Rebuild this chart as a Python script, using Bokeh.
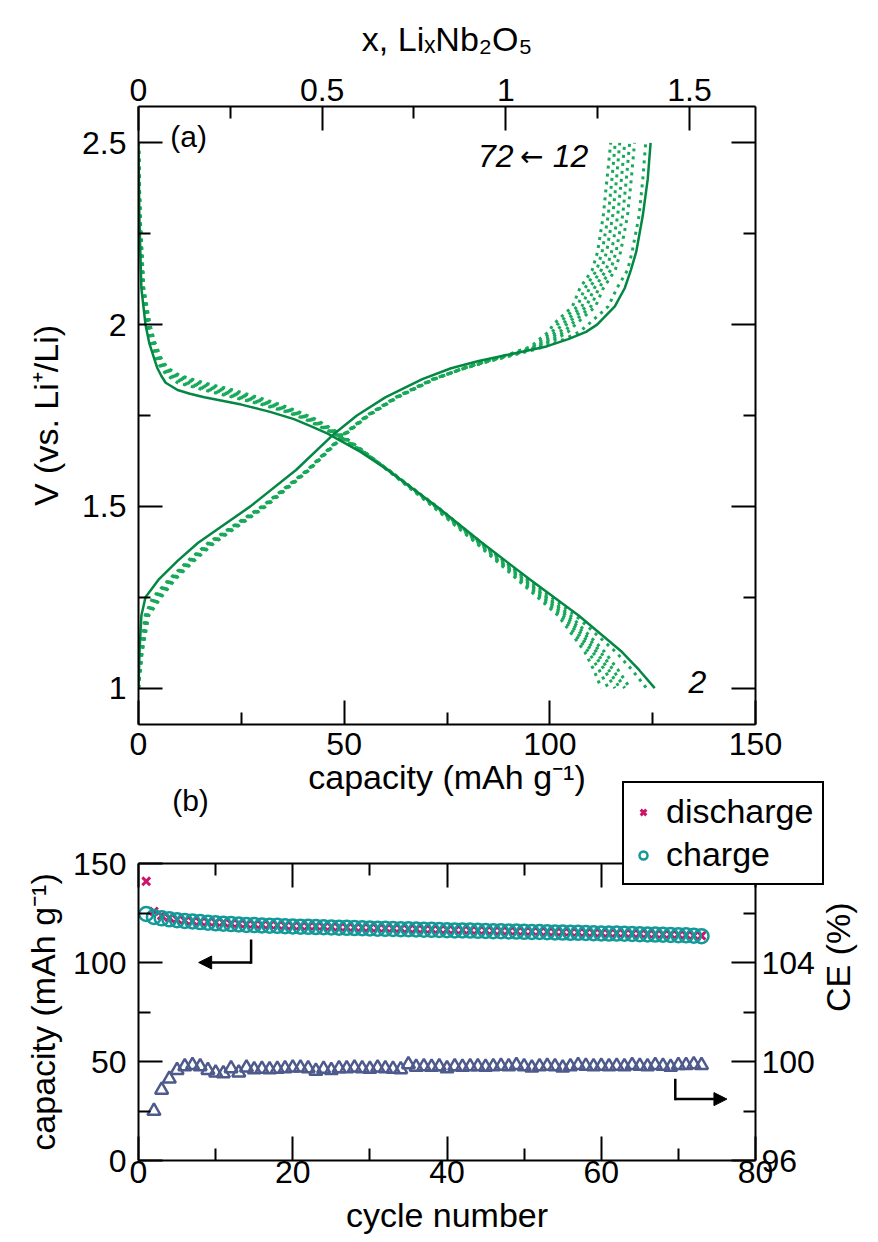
import math

from bokeh.plotting import figure
from bokeh.layouts import column
from bokeh.models import (Range1d, LinearAxis, FixedTicker, Label, Arrow,
                          NormalHead, Legend, LegendItem)
from bokeh.embed import file_html
from bokeh.resources import INLINE

FONT = "Liberation Sans"
SOLID_GREEN = "#048743"
DOT_GREEN = "#19a95a"
TEAL = "#13999a"
MAGENTA = "#cc1468"
SLATE = "#4f5a8c"

# ---- panel (a): voltage profiles -------------------------------------------
# capacity (mAh/g) that corresponds to x = 1 in LixNb2O5
CAP_PER_X = 89.3

# discharge: voltage grid shared by all discharge curves
dis_v = [2.5, 2.3, 2.1, 2.0, 1.95, 1.9, 1.88, 1.86, 1.84, 1.82, 1.81, 1.8, 1.78,
         1.76, 1.74, 1.72, 1.7, 1.65, 1.6, 1.5, 1.4, 1.3, 1.2, 1.1, 1.05, 1.0]
dis_cap_2 = [0, 0.2, 0.7, 1.7, 2.6, 4.0, 4.6, 5.5, 6.6, 9.5, 12.5, 16.0, 25.0,
             32.0, 37.8, 42.0, 46.0, 54.0, 60.6, 72.5, 83.5, 95.0, 107.0, 117.5, 121.7, 125.5]
dis_cap_12 = [0, 0.3, 1.0, 2.0, 3.0, 4.6, 5.5, 7.0, 9.5, 16.0, 19.5, 23.0, 30.0,
              36.0, 40.5, 44.0, 47.5, 54.5, 60.8, 72.5, 83.3, 94.5, 106.2, 116.0, 120.0, 123.5]
dis_cap_22 = [0, 0.32, 1.05, 2.1, 3.2, 4.8, 5.8, 7.5, 10.5, 17.0, 20.5, 24.0, 30.8,
              36.5, 40.9, 44.3, 47.8, 54.6, 60.8, 72.3, 83.0, 94.0, 105.0, 113.3, 116.6, 119.5]
dis_cap_32 = [0, 0.33, 1.1, 2.3, 3.4, 5.0, 6.1, 8.0, 11.5, 18.2, 21.6, 25.0, 31.5,
              37.0, 41.3, 44.7, 48.0, 54.7, 60.7, 72.2, 82.8, 93.6, 104.4, 112.3, 115.4, 118.2]
dis_cap_42 = [0, 0.35, 1.15, 2.4, 3.6, 5.2, 6.4, 8.5, 12.5, 19.4, 22.7, 26.0, 32.3,
              37.5, 41.8, 45.0, 48.3, 54.8, 60.7, 72.0, 82.6, 93.2, 103.8, 111.3, 114.3, 117.0]
dis_cap_52 = [0, 0.37, 1.2, 2.5, 3.8, 5.4, 6.7, 9.0, 13.8, 20.6, 23.8, 27.0, 33.0,
              38.0, 42.2, 45.3, 48.5, 54.8, 60.6, 71.8, 82.4, 92.8, 103.2, 110.4, 113.3, 115.8]
dis_cap_62 = [0, 0.38, 1.25, 2.7, 3.9, 5.6, 7.0, 9.5, 15.0, 21.8, 24.9, 28.0, 33.8,
              38.5, 42.6, 45.7, 48.8, 54.9, 60.6, 71.7, 82.2, 92.4, 102.6, 109.4, 112.0, 114.2]
dis_cap_72 = [0, 0.4, 1.3, 2.8, 4.0, 5.8, 7.2, 10.0, 16.0, 23.0, 26.0, 29.0, 34.5,
              39.0, 43.0, 46.0, 49.0, 55.0, 60.5, 71.5, 82.0, 92.0, 102.0, 108.5, 110.7, 112.5]

# charge: voltage grid shared by all charge curves
chg_v = [1.0, 1.1, 1.2, 1.25, 1.3, 1.35, 1.4, 1.5, 1.6, 1.7, 1.75, 1.8, 1.85, 1.88,
         1.9, 1.92, 1.94, 1.96, 1.98, 2.0, 2.05, 2.1, 2.15, 2.2, 2.3, 2.4, 2.5]
chg_cap_2 = [0, 0.25, 0.7, 1.7, 5.0, 9.5, 14.5, 27.2, 38.3, 47.6, 53.1, 60.0, 69.0, 76.0,
             82.7, 91.0, 99.2, 104.5, 108.8, 111.5, 115.8, 118.2, 119.7, 121.0, 122.6, 123.8, 124.5]
chg_cap_12 = [0, 0.6, 1.6, 3.5, 7.5, 12.0, 17.0, 30.0, 41.0, 50.0, 55.5, 62.5, 71.5, 79.3,
              85.5, 92.5, 99.0, 103.5, 107.2, 109.3, 114.2, 116.3, 118.9, 120.0, 121.7, 122.6, 123.3]
chg_cap_22 = [0, 0.65, 1.8, 3.9, 7.8, 12.3, 17.3, 30.2, 41.1, 50.1, 55.6, 62.6, 71.6, 79.2,
              85.3, 92.0, 97.8, 101.5, 104.4, 106.2, 111.1, 113.0, 115.9, 117.2, 118.9, 119.8, 120.6]
chg_cap_32 = [0, 0.7, 1.9, 4.2, 8.0, 12.5, 17.5, 30.3, 41.2, 50.2, 55.7, 62.7, 71.7, 79.2,
              85.2, 91.8, 97.3, 100.7, 103.5, 105.1, 110.0, 111.9, 114.8, 116.1, 117.7, 118.6, 119.4]
chg_cap_42 = [0, 0.75, 2.1, 4.6, 8.3, 12.8, 17.8, 30.5, 41.3, 50.3, 55.8, 62.8, 71.8, 79.1,
              85.0, 91.5, 96.8, 99.9, 102.5, 104.0, 108.9, 110.8, 113.7, 115.0, 116.5, 117.4, 118.2]
chg_cap_52 = [0, 0.8, 2.2, 4.9, 8.5, 13.0, 18.0, 30.7, 41.3, 50.3, 55.8, 62.8, 71.8, 79.1,
              84.9, 91.2, 96.4, 99.1, 101.5, 102.9, 107.8, 109.6, 112.5, 113.8, 115.3, 116.2, 117.0]
chg_cap_62 = [0, 0.85, 2.4, 5.2, 8.8, 13.3, 18.3, 30.8, 41.4, 50.4, 55.9, 62.9, 71.9, 79.0,
              84.7, 90.8, 95.9, 98.3, 100.6, 101.8, 106.7, 108.5, 111.4, 112.7, 114.2, 115.1, 115.9]
chg_cap_72 = [0, 0.9, 2.5, 5.5, 9.0, 13.5, 18.5, 31.0, 41.5, 50.5, 56.0, 63.0, 72.0, 79.0,
              84.5, 90.5, 95.5, 97.5, 99.7, 100.8, 105.5, 107.3, 110.3, 111.6, 113.0, 113.9, 114.8]

dotted_discharge = [dis_cap_12, dis_cap_22, dis_cap_32, dis_cap_42,
                    dis_cap_52, dis_cap_62, dis_cap_72]
dotted_charge = [chg_cap_12, chg_cap_22, chg_cap_32, chg_cap_42,
                 chg_cap_52, chg_cap_62, chg_cap_72]

# ---- panel (b): cycling ----------------------------------------------------
cycle = list(range(1, 74))
discharge_cap = [141.0, 125.8, 123.7, 122.6, 121.8, 121.2, 120.9, 120.6, 120.5, 120.3,
                 120.2, 119.7, 119.7, 119.3, 119.3, 119.1, 119.0, 118.9, 118.6, 118.5,
                 118.4, 118.3, 118.4, 118.2, 118.1, 117.9, 117.8, 117.7, 117.6, 117.6,
                 117.4, 117.3, 117.3, 117.2, 116.9, 117.0, 116.8, 116.8, 116.6, 116.6,
                 116.4, 116.5, 116.3, 116.2, 116.2, 116.0, 116.0, 115.9, 115.8, 115.7,
                 115.7, 115.6, 115.5, 115.4, 115.4, 115.2, 115.2, 115.1, 115.0, 114.9,
                 114.8, 114.8, 114.7, 114.6, 114.5, 114.4, 114.3, 114.2, 114.2, 114.0,
                 113.9, 113.6, 113.5]
charge_cap = [124.5, 123.0, 122.3, 121.8, 121.4, 121.0, 120.7, 120.4, 120.1, 119.8,
              119.6, 119.4, 119.2, 119.0, 118.9, 118.7, 118.6, 118.5, 118.3, 118.2,
              118.1, 118.0, 117.9, 117.8, 117.7, 117.6, 117.5, 117.4, 117.3, 117.2,
              117.1, 117.0, 116.9, 116.8, 116.8, 116.7, 116.6, 116.5, 116.4, 116.3,
              116.2, 116.2, 116.1, 116.0, 115.9, 115.8, 115.8, 115.7, 115.6, 115.5,
              115.4, 115.4, 115.3, 115.2, 115.1, 115.0, 115.0, 114.9, 114.8, 114.7,
              114.6, 114.6, 114.5, 114.4, 114.3, 114.2, 114.1, 114.0, 113.9, 113.8,
              113.7, 113.5, 113.3]
ce_cycle = list(range(2, 74))
ce = [98.0, 98.85, 99.3, 99.65, 99.8, 99.85, 99.8, 99.65, 99.55, 99.52,
      99.72, 99.55, 99.75, 99.68, 99.7, 99.68, 99.7, 99.72, 99.75, 99.75,
      99.72, 99.62, 99.7, 99.65, 99.72, 99.72, 99.75, 99.72, 99.7, 99.75,
      99.72, 99.7, 99.68, 99.88, 99.78, 99.8, 99.78, 99.8, 99.72, 99.8,
      99.78, 99.8, 99.8, 99.78, 99.8, 99.82, 99.8, 99.85, 99.8, 99.75,
      99.8, 99.82, 99.8, 99.75, 99.8, 99.85, 99.82, 99.8, 99.82, 99.8,
      99.82, 99.8, 99.85, 99.82, 99.8, 99.85, 99.82, 99.78, 99.85, 99.85,
      99.88, 99.85]

# tick positions and labels
v_ticks = [1, 1.5, 2, 2.5]
v_minor = [1.25, 1.75, 2.25]
v_labels = ["1", "1.5", "2", "2.5"]
cap_ticks = [0, 50, 100, 150]
cap_minor = [25, 75, 125]
x_ticks = [0, 0.5, 1, 1.5]
x_minor = [0.25, 0.75, 1.25]
x_labels = ["0", "0.5", "1", "1.5"]
cyc_ticks = [0, 20, 40, 60, 80]
cyc_minor = [10, 30, 50, 70]
ce_ticks = [96, 100, 104, 108]
ce_minor = [98, 102, 106]


def style_axis(ax, ticks, minor, labels=None, label_size="32px"):
    ax.ticker = FixedTicker(ticks=ticks, minor_ticks=minor)
    ax.axis_line_width = 2
    ax.axis_line_color = "black"
    ax.major_tick_line_width = 2
    ax.minor_tick_line_width = 2
    ax.major_tick_line_color = "black"
    ax.minor_tick_line_color = "black"
    ax.major_tick_in = 24
    ax.major_tick_out = 0
    ax.minor_tick_in = 12
    ax.minor_tick_out = 0
    ax.major_label_text_font = FONT
    ax.major_label_text_font_size = label_size
    ax.major_label_text_color = "black"
    ax.axis_label_text_font = FONT
    ax.axis_label_text_font_size = "34px"
    ax.axis_label_text_font_style = "normal"
    ax.axis_label_text_color = "black"
    if labels is not None:
        ax.major_label_overrides = {t: s for t, s in zip(ticks, labels)}


def text_label(x, y, text, align="left", size="32px", style="normal", font=FONT):
    return Label(x=x, y=y, text=text, text_align=align, text_baseline="middle",
                 text_font=font, text_font_size=size, text_font_style=style,
                 text_color="black")


# ---------------------------------------------------------------- panel (a)
p1 = figure(width=878, height=805, x_range=Range1d(0, 150), y_range=Range1d(0.9, 2.6),
            output_backend="svg", toolbar_location=None,
            min_border_left=138, min_border_right=123,
            min_border_top=106, min_border_bottom=81)
p1.extra_x_ranges = {"li": Range1d(0, 150 / CAP_PER_X)}
p1.grid.visible = False
p1.outline_line_color = None

bottom1 = p1.below[0]
style_axis(bottom1, cap_ticks, cap_minor)
bottom1.axis_label = "capacity (mAh g\u207b\u00b9)"
bottom1.major_label_standoff = 8
bottom1.axis_label_standoff = 0

left1 = p1.left[0]
style_axis(left1, v_ticks, v_minor, v_labels)
left1.axis_label = "V (vs. Li\u207a/Li)"
left1.major_label_standoff = 12
left1.axis_label_standoff = 14

right1 = LinearAxis()
style_axis(right1, v_ticks, v_minor, ["", "", "", ""])
p1.add_layout(right1, "right")

top1 = LinearAxis(x_range_name="li")
style_axis(top1, x_ticks, x_minor, x_labels)
top1.axis_label = "x, Li\u2093Nb\u2082O\u2085"
top1.major_label_standoff = 6
top1.axis_label_standoff = 18
p1.add_layout(top1, "above")

for caps in dotted_discharge:
    p1.line(caps, dis_v, line_color=DOT_GREEN, line_width=3, line_dash="3 5")
for caps in dotted_charge:
    p1.line(caps, chg_v, line_color=DOT_GREEN, line_width=3, line_dash="3 5")
p1.line(dis_cap_2, dis_v, line_color=SOLID_GREEN, line_width=2.5)
p1.line(chg_cap_2, chg_v, line_color=SOLID_GREEN, line_width=2.5)

p1.add_layout(text_label(12.2, 2.518, "(a)", align="center", size="30px"))
p1.add_layout(text_label(91.2, 2.463, "72", align="right", style="italic"))
p1.add_layout(text_label(95.6, 2.463, "\u2190", align="center", size="28px",
                         font="DejaVu Sans"))
p1.add_layout(text_label(100.7, 2.463, "12", align="left", style="italic"))
p1.add_layout(text_label(133.7, 1.017, "2", align="left", style="italic"))

# ---------------------------------------------------------------- panel (b)
p2 = figure(width=878, height=467, x_range=Range1d(0, 80), y_range=Range1d(0, 150),
            output_backend="svg", toolbar_location=None,
            min_border_left=138, min_border_right=123,
            min_border_top=88, min_border_bottom=82)
p2.title = None
p2.extra_y_ranges = {"ce": Range1d(96, 108)}
p2.grid.visible = False
p2.outline_line_color = None
p2.border_fill_color = None
p2.margin = (-30, 0, 0, 0)

bottom2 = p2.below[0]
style_axis(bottom2, cyc_ticks, cyc_minor)
bottom2.axis_label = "cycle number"
bottom2.major_label_standoff = 0
bottom2.axis_label_standoff = 10

left2 = p2.left[0]
style_axis(left2, cap_ticks, cap_minor)
left2.axis_label = "capacity (mAh g\u207b\u00b9)"
left2.major_label_standoff = 12
left2.axis_label_standoff = 8

right2 = LinearAxis(y_range_name="ce")
style_axis(right2, ce_ticks, ce_minor, ["96", "100", "104", ""])
right2.axis_label = "CE (%)"
right2.axis_label_orientation = math.pi / 2
right2.major_label_standoff = 6
right2.axis_label_standoff = 20
p2.add_layout(right2, "right")

top2 = LinearAxis()
style_axis(top2, cyc_ticks, cyc_minor, ["", "", "", "", ""], label_size="1px")
top2.major_label_standoff = 0
p2.add_layout(top2, "above")

p2.scatter(ce_cycle, ce, y_range_name="ce", marker="triangle", size=13,
           line_color=SLATE, fill_color=None, line_width=2.5)
p2.scatter(cycle, discharge_cap, marker="x", size=11, line_color=MAGENTA, line_width=3)
p2.scatter(cycle, charge_cap, marker="circle", size=14,
           line_color=TEAL, fill_color=None, line_width=2.5)

# axis-pointer arrows
p2.add_layout(Arrow(x_start=14.6, y_start=111, x_end=14.6, y_end=100, end=None,
                    line_width=2.5, line_color="black", line_cap="square"))
p2.add_layout(Arrow(x_start=14.6, y_start=100, x_end=7.8, y_end=100,
                    end=NormalHead(size=13, fill_color="black", line_color="black"),
                    line_width=2.5, line_color="black"))
p2.add_layout(Arrow(x_start=69.6, y_start=40.6, x_end=69.6, y_end=31.0, end=None,
                    line_width=2.5, line_color="black", line_cap="square"))
p2.add_layout(Arrow(x_start=69.6, y_start=31.0, x_end=76.3, y_end=31.0,
                    end=NormalHead(size=13, fill_color="black", line_color="black"),
                    line_width=2.5, line_color="black"))

# ------------------------------------------- overlay strip: "(b)" and legend
# A transparent full-width strip (its own document root, so its frame is not
# lined up with the panels) pulled up over the gap between the panels, so the
# legend can straddle the top-right corner of panel (b). Ranges are page px.
p3 = figure(width=878, height=112, x_range=Range1d(0, 878), y_range=Range1d(0, 112),
            output_backend="svg", toolbar_location=None, min_border=0,
            x_axis_location=None, y_axis_location=None)
p3.title = None
p3.grid.visible = False
p3.outline_line_color = None
p3.background_fill_color = None
p3.border_fill_color = None
p3.margin = (-467, 0, 0, 0)

# legend keys: one point each, parked outside the strip's ranges so that only
# the legend swatches show
key_dis = p3.scatter(x=[-100], y=[-100], marker="x", size=11,
                     line_color=MAGENTA, line_width=3)
key_chg = p3.scatter(x=[-100], y=[-100], marker="circle", size=14,
                     line_color=TEAL, fill_color=None, line_width=2.5)

legend = Legend(items=[LegendItem(label="discharge", renderers=[key_dis]),
                       LegendItem(label="charge", renderers=[key_chg])],
                location=(622, 2))
legend.label_text_font = FONT
legend.label_text_font_size = "34px"
legend.label_text_color = "black"
legend.label_standoff = 13
legend.label_height = 36
legend.glyph_width = 20
legend.glyph_height = 20
legend.spacing = 4
legend.padding = 9
legend.margin = 0
legend.border_line_color = "black"
legend.border_line_alpha = 1
legend.border_line_width = 2
legend.background_fill_color = "white"
legend.background_fill_alpha = 1
p3.add_layout(legend)

p3.add_layout(text_label(190, 87, "(b)", align="center", size="30px"))

layout = column(p1, p2)
open("out.html", "w").write(file_html([layout, p3], INLINE))
